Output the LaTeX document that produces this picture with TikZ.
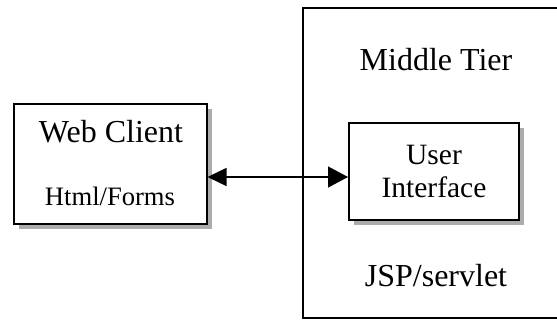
\documentclass[tikz,border=0pt]{standalone}
\usepackage{fontspec}
\setmainfont{Liberation Serif}
\usetikzlibrary{arrows.meta,shadows}
\tikzset{
  tierbox/.style={
    draw,
    line width=1.4pt,
    minimum width=262pt,
    minimum height=310pt,
    inner sep=0pt
  },
  shadebox/.style={
    draw,
    line width=2pt,
    fill=white,
    align=center,
    inner sep=0pt,
    drop shadow={shadow xshift=5pt, shadow yshift=-5pt, fill=gray!65, opacity=1}
  },
  boxlabel/.style={anchor=base, inner sep=0pt},
  flowarrow/.style={{Triangle[length=19pt,width=18pt]}-{Triangle[length=20pt,width=21pt]}, line width=1.3pt}
}

\begin{document}
\begin{tikzpicture}[x=1pt,y=1pt]
  \useasboundingbox (0,0) rectangle (557,320);

  \node[tierbox] (tier) at (434,157) {};
  \node[boxlabel, font=\fontsize{32}{36}\selectfont] (tiername) at (436,249) {Middle Tier};
  \node[boxlabel, font=\fontsize{32}{36}\selectfont] (jsp) at (436,33) {JSP/servlet};

  \node[shadebox, minimum width=193pt, minimum height=120pt] (webclient) at (110,156) {};
  \node[boxlabel, font=\fontsize{32}{36}\selectfont] (webname) at (111,177) {Web Client};
  \node[boxlabel, font=\fontsize{26.6}{30}\selectfont] (html) at (110,114) {Html/Forms};

  \node[shadebox, minimum width=170pt, minimum height=97pt,
        font=\fontsize{29.5}{33}\selectfont] (ui) at (434,148.5) {User\\Interface};

  \draw[flowarrow] ([yshift=-13pt]webclient.east) -- ([yshift=-5.5pt]ui.west);
\end{tikzpicture}
\end{document}
